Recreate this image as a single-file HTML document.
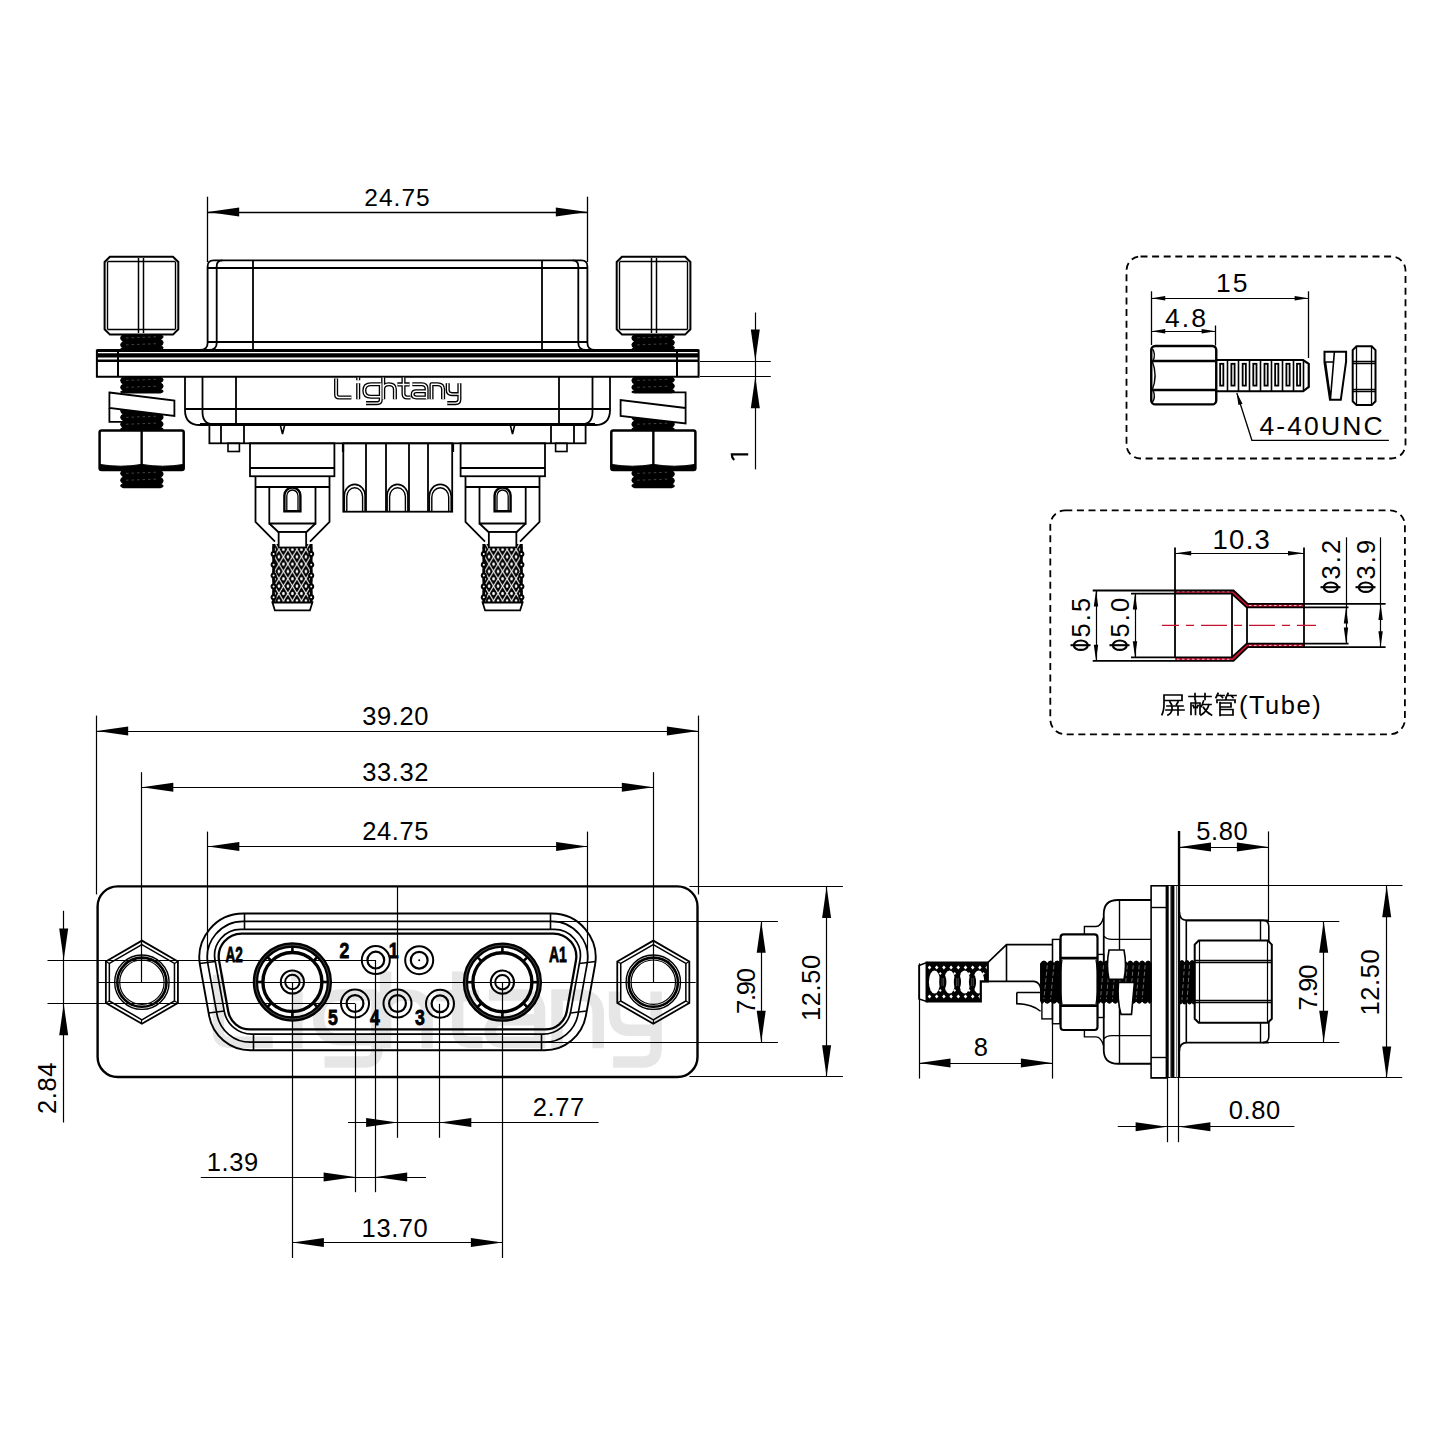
<!DOCTYPE html>
<html><head><meta charset="utf-8"><style>
html,body{margin:0;padding:0;background:#fff;width:1440px;height:1440px;overflow:hidden}
svg{display:block}
</style></head><body>
<svg width="1440" height="1440" viewBox="0 0 1440 1440" style="font-family:'Liberation Sans',sans-serif">
<defs>
<pattern id="knurl" patternUnits="userSpaceOnUse" width="9" height="14.7" x="278.9" y="556.7"><rect width="9" height="14.7" fill="#fff"/><path d="M0,-6.35 L3.85,0 L0,6.35 L-3.85,0 Z" fill="#000"/><ellipse cx="0" cy="0" rx="1.3" ry="1.8" fill="#fff"/><path d="M9,-6.35 L12.85,0 L9,6.35 L5.15,0 Z" fill="#000"/><ellipse cx="9" cy="0" rx="1.3" ry="1.8" fill="#fff"/><path d="M0,8.35 L3.85,14.7 L0,21.049999999999997 L-3.85,14.7 Z" fill="#000"/><ellipse cx="0" cy="14.7" rx="1.3" ry="1.8" fill="#fff"/><path d="M9,8.35 L12.85,14.7 L9,21.049999999999997 L5.15,14.7 Z" fill="#000"/><ellipse cx="9" cy="14.7" rx="1.3" ry="1.8" fill="#fff"/><path d="M4.5,1.0 L8.35,7.35 L4.5,13.7 L0.6499999999999999,7.35 Z" fill="#000"/><ellipse cx="4.5" cy="7.35" rx="1.3" ry="1.8" fill="#fff"/></pattern>
<pattern id="knurlR" patternUnits="userSpaceOnUse" width="9" height="14.7" x="516.1" y="556.7"><rect width="9" height="14.7" fill="#fff"/><path d="M0,-6.35 L3.85,0 L0,6.35 L-3.85,0 Z" fill="#000"/><ellipse cx="0" cy="0" rx="1.3" ry="1.8" fill="#fff"/><path d="M9,-6.35 L12.85,0 L9,6.35 L5.15,0 Z" fill="#000"/><ellipse cx="9" cy="0" rx="1.3" ry="1.8" fill="#fff"/><path d="M0,8.35 L3.85,14.7 L0,21.049999999999997 L-3.85,14.7 Z" fill="#000"/><ellipse cx="0" cy="14.7" rx="1.3" ry="1.8" fill="#fff"/><path d="M9,8.35 L12.85,14.7 L9,21.049999999999997 L5.15,14.7 Z" fill="#000"/><ellipse cx="9" cy="14.7" rx="1.3" ry="1.8" fill="#fff"/><path d="M4.5,1.0 L8.35,7.35 L4.5,13.7 L0.6499999999999999,7.35 Z" fill="#000"/><ellipse cx="4.5" cy="7.35" rx="1.3" ry="1.8" fill="#fff"/></pattern>
<pattern id="knurl2" patternUnits="userSpaceOnUse" width="14" height="10" x="926" y="962">
<rect width="14" height="10" fill="#000"/>
<path d="M0,0 L14,10 M14,0 L0,10" stroke="#fff" stroke-width="0.9"/>
</pattern>
</defs>
<rect width="1440" height="1440" fill="#fff"/>
<line x1="207.50" y1="196.70" x2="207.50" y2="262.00" stroke="#000" stroke-width="1.3" />
<line x1="587.50" y1="196.70" x2="587.50" y2="262.00" stroke="#000" stroke-width="1.3" />
<line x1="207.70" y1="212.50" x2="587.30" y2="212.50" stroke="#000" stroke-width="1.3" />
<path d="M207.70,212.10 L239.20,207.60 L239.20,216.60 Z" fill="#000" stroke="none"/>
<path d="M587.30,212.10 L555.80,216.60 L555.80,207.60 Z" fill="#000" stroke="none"/>
<text x="397.50" y="205.50" font-family="Liberation Sans" font-size="24.5" font-weight="normal" text-anchor="middle" letter-spacing="1.0"  >24.75</text>
<line x1="700.00" y1="361.50" x2="770.80" y2="361.50" stroke="#000" stroke-width="1.2" />
<line x1="700.00" y1="376.50" x2="770.80" y2="376.50" stroke="#000" stroke-width="1.2" />
<line x1="755.50" y1="312.50" x2="755.50" y2="469.40" stroke="#000" stroke-width="1.2" />
<path d="M755.30,361.10 L750.80,329.60 L759.80,329.60 Z" fill="#000" stroke="none"/>
<path d="M755.30,376.80 L759.80,408.30 L750.80,408.30 Z" fill="#000" stroke="none"/>
<path d="M748.2,454.3 H731.8 Q731.6,457.5 734.2,460" fill="none" stroke="#000" stroke-width="2.2" />
<path d="M200,350 Q207.6,350 207.6,343 V266.4 Q207.6,260.4 213.6,260.4 H581.4 Q587.4,260.4 587.4,266.4 V343 Q587.4,350 595.0,350" fill="none" stroke="#000" stroke-width="1.8" />
<path d="M209,350 Q216.7,350 216.7,343 V266 Q216.7,260.4 222.5,260.4 M572.5,260.4 Q578.3,260.4 578.3,266 V343 Q578.3,350 586.0,350" fill="none" stroke="#000" stroke-width="1.8" />
<line x1="207.60" y1="268.00" x2="587.40" y2="268.00" stroke="#000" stroke-width="1.8" />
<line x1="207.60" y1="342.00" x2="587.40" y2="342.00" stroke="#000" stroke-width="1.8" />
<line x1="253.00" y1="260.40" x2="253.00" y2="350.00" stroke="#000" stroke-width="1.8" />
<line x1="542.00" y1="260.40" x2="542.00" y2="350.00" stroke="#000" stroke-width="1.8" />
<path d="M109.89999999999999,256.7 H173.0 L178.3,262 V329.3 L173.0,334.6 H109.89999999999999 L104.6,329.3 V262 Z" fill="none" stroke="#000" stroke-width="2.0" />
<line x1="107.50" y1="261.50" x2="175.40" y2="261.50" stroke="#000" stroke-width="1.6" />
<line x1="107.50" y1="329.50" x2="175.40" y2="329.50" stroke="#000" stroke-width="1.6" />
<line x1="107.50" y1="261.70" x2="107.50" y2="329.30" stroke="#000" stroke-width="1.4" />
<line x1="175.50" y1="261.70" x2="175.50" y2="329.30" stroke="#000" stroke-width="1.4" />
<line x1="138.50" y1="258.00" x2="138.50" y2="333.00" stroke="#000" stroke-width="1.5" />
<line x1="143.50" y1="258.00" x2="143.50" y2="333.00" stroke="#000" stroke-width="1.5" />
<path d="M622.0,256.7 H685.1 L690.4,262 V329.3 L685.1,334.6 H622.0 L616.7,329.3 V262 Z" fill="none" stroke="#000" stroke-width="2.0" />
<line x1="619.60" y1="261.50" x2="687.50" y2="261.50" stroke="#000" stroke-width="1.6" />
<line x1="619.60" y1="329.50" x2="687.50" y2="329.50" stroke="#000" stroke-width="1.6" />
<line x1="619.50" y1="261.70" x2="619.50" y2="329.30" stroke="#000" stroke-width="1.4" />
<line x1="687.50" y1="261.70" x2="687.50" y2="329.30" stroke="#000" stroke-width="1.4" />
<line x1="651.50" y1="258.00" x2="651.50" y2="333.00" stroke="#000" stroke-width="1.5" />
<line x1="656.50" y1="258.00" x2="656.50" y2="333.00" stroke="#000" stroke-width="1.5" />
<rect x="96.90" y="350.50" width="601.70" height="26.25" rx="0" fill="none" stroke="#000" stroke-width="2.0" />
<line x1="96.90" y1="350.50" x2="698.60" y2="350.50" stroke="#000" stroke-width="3.0" />
<line x1="96.90" y1="355.40" x2="698.60" y2="355.40" stroke="#000" stroke-width="4.2" />
<line x1="96.90" y1="360.85" x2="698.60" y2="360.85" stroke="#000" stroke-width="2.5" />
<line x1="118.00" y1="350.00" x2="118.00" y2="377.00" stroke="#000" stroke-width="2.0" />
<line x1="677.00" y1="350.00" x2="677.00" y2="377.00" stroke="#000" stroke-width="2.0" />
<path d="M185,377 V410 Q185,425 200,425 H595.0 Q610.0,425 610.0,410 V377" fill="none" stroke="#000" stroke-width="1.8" />
<path d="M202.5,377 V412 Q202.5,424.4 214,424.4 M581.0,424.4 Q592.5,424.4 592.5,412 V377" fill="none" stroke="#000" stroke-width="1.8" />
<line x1="185.00" y1="409.00" x2="610.00" y2="409.00" stroke="#000" stroke-width="1.8" />
<line x1="200.00" y1="424.00" x2="595.00" y2="424.00" stroke="#000" stroke-width="1.8" />
<line x1="236.00" y1="377.00" x2="236.00" y2="424.40" stroke="#000" stroke-width="1.8" />
<line x1="559.00" y1="377.00" x2="559.00" y2="424.40" stroke="#000" stroke-width="1.8" />
<rect x="209.40" y="424.40" width="376.20" height="18.90" rx="0" fill="none" stroke="#000" stroke-width="1.8" />
<line x1="221.00" y1="424.40" x2="221.00" y2="443.30" stroke="#000" stroke-width="1.8" />
<line x1="574.00" y1="424.40" x2="574.00" y2="443.30" stroke="#000" stroke-width="1.8" />
<line x1="244.00" y1="424.40" x2="244.00" y2="443.30" stroke="#000" stroke-width="1.8" />
<line x1="551.00" y1="424.40" x2="551.00" y2="443.30" stroke="#000" stroke-width="1.8" />
<rect x="228.00" y="443.30" width="11.40" height="8.20" rx="0" fill="none" stroke="#000" stroke-width="1.6" />
<rect x="555.60" y="443.30" width="11.40" height="8.20" rx="0" fill="none" stroke="#000" stroke-width="1.6" />
<path d="M280.3,425 L282.5,434 L284.7,425" fill="none" stroke="#000" stroke-width="1.6" />
<path d="M510.3,425 L512.5,434 L514.7,425" fill="none" stroke="#000" stroke-width="1.6" />
<path d="M336.1,378.5 V394.5 Q336.1,397.5 339.1,397.5 H351.4 M358.2,383.2 V399.2 M358.2,377.6 V380.2 M380.8,384.2 H371 Q364.3,384.2 364.3,390.5 Q364.3,396.8 371,396.8 H380.8 M380.8,383.2 V399.5 Q380.8,403.1 377.2,403.1 H366 M383.2,377.6 V399.2 M383.2,389 Q383.2,384.2 389,384.2 Q394.9,384.2 394.9,389.5 V399.2 M403.5,377.6 V393.8 Q403.5,397.5 407.2,397.5 H410.5 M397.4,384.4 H409.6 M412.3,384.2 H421.8 Q426.6,384.2 426.6,389 V399.2 M426.6,391.2 H416.4 Q412.7,391.2 412.7,394.35 Q412.7,397.5 416.4,397.5 H426.6 M431.5,399.2 V384.2 H437.5 Q443.1,384.2 443.1,389.5 V399.2 M447.7,383.2 V389.8 Q447.7,394.1 452,394.1 H459.4 M459.4,383.2 V399.3 Q459.4,403.1 455.6,403.1 H447.3" fill="none" stroke="#000" stroke-width="4.1" stroke-linecap="butt" stroke-linejoin="round"/>
<path d="M336.1,378.5 V394.5 Q336.1,397.5 339.1,397.5 H351.4 M358.2,383.2 V399.2 M358.2,377.6 V380.2 M380.8,384.2 H371 Q364.3,384.2 364.3,390.5 Q364.3,396.8 371,396.8 H380.8 M380.8,383.2 V399.5 Q380.8,403.1 377.2,403.1 H366 M383.2,377.6 V399.2 M383.2,389 Q383.2,384.2 389,384.2 Q394.9,384.2 394.9,389.5 V399.2 M403.5,377.6 V393.8 Q403.5,397.5 407.2,397.5 H410.5 M397.4,384.4 H409.6 M412.3,384.2 H421.8 Q426.6,384.2 426.6,389 V399.2 M426.6,391.2 H416.4 Q412.7,391.2 412.7,394.35 Q412.7,397.5 416.4,397.5 H426.6 M431.5,399.2 V384.2 H437.5 Q443.1,384.2 443.1,389.5 V399.2 M447.7,383.2 V389.8 Q447.7,394.1 452,394.1 H459.4 M459.4,383.2 V399.3 Q459.4,403.1 455.6,403.1 H447.3" fill="none" stroke="#fff" stroke-width="1.45" stroke-linecap="butt" stroke-linejoin="round"/>
<rect x="250.00" y="443.30" width="84.40" height="32.95" rx="0" fill="none" stroke="#000" stroke-width="1.8" />
<line x1="250.00" y1="468.00" x2="334.40" y2="468.00" stroke="#000" stroke-width="1.8" />
<path d="M255.5,476.25 V522 L275.0,541.7 M329.5,476.25 V522 L310.0,541.7" fill="none" stroke="#000" stroke-width="1.8" />
<line x1="255.50" y1="487.00" x2="329.50" y2="487.00" stroke="#000" stroke-width="1.8" />
<path d="M269.3,487 V523.5 H315.5 V487" fill="none" stroke="#000" stroke-width="1.8" />
<path d="M269.3,523.5 L278.3,532 H306.5 L315.5,523.5" fill="none" stroke="#000" stroke-width="1.8" />
<path d="M284.4,511.3 V495.5 A8,8 0 0 1 300.4,495.5 V511.3 Z" fill="none" stroke="#000" stroke-width="2.4" />
<path d="M286.79999999999995,511.3 V496 A5.6,6 0 0 1 298.0,496 V511.3" fill="none" stroke="#000" stroke-width="1.3" />
<rect x="272.4" y="544" width="40" height="58.5" fill="url(#knurl)" stroke="none"/>
<line x1="273.60" y1="544.00" x2="273.60" y2="602.50" stroke="#000" stroke-width="2.6" />
<line x1="311.20" y1="544.00" x2="311.20" y2="602.50" stroke="#000" stroke-width="2.6" />
<circle cx="273.59999999999997" cy="554.0" r="3.0" fill="#000"/>
<circle cx="311.2" cy="554.0" r="3.0" fill="#000"/>
<circle cx="273.59999999999997" cy="554.0" r="1.0" fill="#fff"/>
<circle cx="311.2" cy="554.0" r="1.0" fill="#fff"/>
<circle cx="273.59999999999997" cy="564.8" r="3.0" fill="#000"/>
<circle cx="311.2" cy="564.8" r="3.0" fill="#000"/>
<circle cx="273.59999999999997" cy="564.8" r="1.0" fill="#fff"/>
<circle cx="311.2" cy="564.8" r="1.0" fill="#fff"/>
<circle cx="273.59999999999997" cy="575.6" r="3.0" fill="#000"/>
<circle cx="311.2" cy="575.6" r="3.0" fill="#000"/>
<circle cx="273.59999999999997" cy="575.6" r="1.0" fill="#fff"/>
<circle cx="311.2" cy="575.6" r="1.0" fill="#fff"/>
<circle cx="273.59999999999997" cy="586.4" r="3.0" fill="#000"/>
<circle cx="311.2" cy="586.4" r="3.0" fill="#000"/>
<circle cx="273.59999999999997" cy="586.4" r="1.0" fill="#fff"/>
<circle cx="311.2" cy="586.4" r="1.0" fill="#fff"/>
<circle cx="273.59999999999997" cy="597.2" r="3.0" fill="#000"/>
<circle cx="311.2" cy="597.2" r="3.0" fill="#000"/>
<circle cx="273.59999999999997" cy="597.2" r="1.0" fill="#fff"/>
<circle cx="311.2" cy="597.2" r="1.0" fill="#fff"/>
<rect x="278.65" y="532.00" width="27.50" height="15.50" rx="0" fill="#fff" stroke="#000" stroke-width="1.8" />
<path d="M272.4,602.5 H312.4 L309.9,610.4 H274.9 Z" fill="#fff" stroke="#000" stroke-width="1.8" />
<rect x="460.60" y="443.30" width="84.40" height="32.95" rx="0" fill="none" stroke="#000" stroke-width="1.8" />
<line x1="545.00" y1="468.00" x2="460.60" y2="468.00" stroke="#000" stroke-width="1.8" />
<path d="M465.5,476.25 V522 L485.0,541.7 M539.5,476.25 V522 L520.0,541.7" fill="none" stroke="#000" stroke-width="1.8" />
<line x1="465.50" y1="487.00" x2="539.50" y2="487.00" stroke="#000" stroke-width="1.8" />
<path d="M479.5,487 V523.5 H525.7 V487" fill="none" stroke="#000" stroke-width="1.8" />
<path d="M479.5,523.5 L488.5,532 H516.7 L525.7,523.5" fill="none" stroke="#000" stroke-width="1.8" />
<path d="M494.6,511.3 V495.5 A8,8 0 0 1 510.6,495.5 V511.3 Z" fill="none" stroke="#000" stroke-width="2.4" />
<path d="M497.0,511.3 V496 A5.6,6 0 0 1 508.20000000000005,496 V511.3" fill="none" stroke="#000" stroke-width="1.3" />
<rect x="482.6" y="544" width="40" height="58.5" fill="url(#knurlR)" stroke="none"/>
<line x1="483.80" y1="544.00" x2="483.80" y2="602.50" stroke="#000" stroke-width="2.6" />
<line x1="521.40" y1="544.00" x2="521.40" y2="602.50" stroke="#000" stroke-width="2.6" />
<circle cx="483.8" cy="554.0" r="3.0" fill="#000"/>
<circle cx="521.4" cy="554.0" r="3.0" fill="#000"/>
<circle cx="483.8" cy="554.0" r="1.0" fill="#fff"/>
<circle cx="521.4" cy="554.0" r="1.0" fill="#fff"/>
<circle cx="483.8" cy="564.8" r="3.0" fill="#000"/>
<circle cx="521.4" cy="564.8" r="3.0" fill="#000"/>
<circle cx="483.8" cy="564.8" r="1.0" fill="#fff"/>
<circle cx="521.4" cy="564.8" r="1.0" fill="#fff"/>
<circle cx="483.8" cy="575.6" r="3.0" fill="#000"/>
<circle cx="521.4" cy="575.6" r="3.0" fill="#000"/>
<circle cx="483.8" cy="575.6" r="1.0" fill="#fff"/>
<circle cx="521.4" cy="575.6" r="1.0" fill="#fff"/>
<circle cx="483.8" cy="586.4" r="3.0" fill="#000"/>
<circle cx="521.4" cy="586.4" r="3.0" fill="#000"/>
<circle cx="483.8" cy="586.4" r="1.0" fill="#fff"/>
<circle cx="521.4" cy="586.4" r="1.0" fill="#fff"/>
<circle cx="483.8" cy="597.2" r="3.0" fill="#000"/>
<circle cx="521.4" cy="597.2" r="3.0" fill="#000"/>
<circle cx="483.8" cy="597.2" r="1.0" fill="#fff"/>
<circle cx="521.4" cy="597.2" r="1.0" fill="#fff"/>
<rect x="488.85" y="532.00" width="27.50" height="15.50" rx="0" fill="#fff" stroke="#000" stroke-width="1.8" />
<path d="M482.6,602.5 H522.6 L520.1,610.4 H485.1 Z" fill="#fff" stroke="#000" stroke-width="1.8" />
<rect x="343.30" y="443.30" width="108.90" height="68.40" rx="0" fill="none" stroke="#000" stroke-width="1.8" />
<line x1="366.00" y1="443.30" x2="366.00" y2="511.70" stroke="#000" stroke-width="1.8" />
<line x1="386.00" y1="443.30" x2="386.00" y2="511.70" stroke="#000" stroke-width="1.8" />
<line x1="409.00" y1="443.30" x2="409.00" y2="511.70" stroke="#000" stroke-width="1.8" />
<line x1="428.00" y1="443.30" x2="428.00" y2="511.70" stroke="#000" stroke-width="1.8" />
<path d="M344.3,511.7 V495.79999999999995 A10.400000000000006,11.400000000000006 0 0 1 365.1,495.79999999999995 V511.7" fill="none" stroke="#000" stroke-width="1.6" />
<path d="M346.8,511.7 V496.70000000000005 A7.900000000000006,8.900000000000006 0 0 1 362.6,496.70000000000005 V511.7" fill="none" stroke="#000" stroke-width="1.4" />
<path d="M387.1,511.7 V495.79999999999995 A10.399999999999977,11.399999999999977 0 0 1 407.9,495.79999999999995 V511.7" fill="none" stroke="#000" stroke-width="1.6" />
<path d="M389.6,511.7 V496.7 A7.899999999999977,8.899999999999977 0 0 1 405.4,496.7 V511.7" fill="none" stroke="#000" stroke-width="1.4" />
<path d="M429.3,511.7 V496.34999999999997 A10.949999999999989,11.949999999999989 0 0 1 451.2,496.34999999999997 V511.7" fill="none" stroke="#000" stroke-width="1.6" />
<path d="M431.8,511.7 V497.25 A8.449999999999989,9.449999999999989 0 0 1 448.7,497.25 V511.7" fill="none" stroke="#000" stroke-width="1.4" />
<line x1="343.00" y1="444.00" x2="343.00" y2="452.00" stroke="#000" stroke-width="2.2" />
<line x1="453.00" y1="444.00" x2="453.00" y2="452.00" stroke="#000" stroke-width="2.2" />
<path d="M123.5,334.5 Q117.90,337.95 123.50,341.40 Q117.90,344.85 123.50,348.30 Q117.90,348.90 123.50,349.50 L160.25,349.5 Q165.85,347.77 160.25,346.05 Q165.85,342.60 160.25,339.15 Q165.85,336.83 160.25,334.50 Z" fill="#000" stroke="#000" stroke-width="1.2" stroke-linejoin="round"/>
<line x1="126" y1="337.95" x2="157.75" y2="336.75" stroke="#fff" stroke-width="0.6" stroke-dasharray="2.5 3" opacity="0.45"/>
<line x1="126" y1="344.85" x2="157.75" y2="343.65" stroke="#fff" stroke-width="0.6" stroke-dasharray="2.5 3" opacity="0.45"/>
<path d="M123.5,377 Q117.90,380.45 123.50,383.90 Q117.90,387.35 123.50,390.80 Q117.90,391.90 123.50,393.00 L160.25,393 Q165.85,391.27 160.25,389.55 Q165.85,386.10 160.25,382.65 Q165.85,379.83 160.25,377.00 Z" fill="#000" stroke="#000" stroke-width="1.2" stroke-linejoin="round"/>
<line x1="126" y1="380.45" x2="157.75" y2="379.25" stroke="#fff" stroke-width="0.6" stroke-dasharray="2.5 3" opacity="0.45"/>
<line x1="126" y1="387.35" x2="157.75" y2="386.15" stroke="#fff" stroke-width="0.6" stroke-dasharray="2.5 3" opacity="0.45"/>
<path d="M123.5,407 Q117.90,410.45 123.50,413.90 Q117.90,417.35 123.50,420.80 Q117.90,424.25 123.50,427.70 Q117.90,429.35 123.50,431.00 L160.25,431 Q165.85,429.27 160.25,427.55 Q165.85,424.10 160.25,420.65 Q165.85,417.20 160.25,413.75 Q165.85,410.38 160.25,407.00 Z" fill="#000" stroke="#000" stroke-width="1.2" stroke-linejoin="round"/>
<line x1="126" y1="410.45" x2="157.75" y2="409.25" stroke="#fff" stroke-width="0.6" stroke-dasharray="2.5 3" opacity="0.45"/>
<line x1="126" y1="417.35" x2="157.75" y2="416.15" stroke="#fff" stroke-width="0.6" stroke-dasharray="2.5 3" opacity="0.45"/>
<line x1="126" y1="424.25" x2="157.75" y2="423.05" stroke="#fff" stroke-width="0.6" stroke-dasharray="2.5 3" opacity="0.45"/>
<path d="M123.5,469.9 Q117.90,473.35 123.50,476.80 Q117.90,480.25 123.50,483.70 Q117.90,485.70 123.50,487.70 L160.25,487.7 Q165.85,485.98 160.25,484.25 Q165.85,480.80 160.25,477.35 Q165.85,473.90 160.25,470.45 Q165.85,470.18 160.25,469.90 Z" fill="#000" stroke="#000" stroke-width="1.2" stroke-linejoin="round"/>
<line x1="126" y1="473.35" x2="157.75" y2="472.15" stroke="#fff" stroke-width="0.6" stroke-dasharray="2.5 3" opacity="0.45"/>
<line x1="126" y1="480.25" x2="157.75" y2="479.05" stroke="#fff" stroke-width="0.6" stroke-dasharray="2.5 3" opacity="0.45"/>
<path d="M109.4,392.5 L174.4,400.6 V416 L109.4,408 Z" fill="#fff" stroke="#000" stroke-width="1.8" />
<path d="M109.4,408 V421.9 H123" fill="none" stroke="#000" stroke-width="1.8" />
<rect x="99.60" y="430.60" width="84.10" height="39.30" rx="2" fill="#fff" stroke="#000" stroke-width="2.5" />
<line x1="141.65" y1="430.60" x2="141.65" y2="466.00" stroke="#000" stroke-width="2.4" />
<path d="M99.6,464.4 Q120.62499999999999,468 141.64999999999998,464.4 Q162.67499999999998,468 183.7,464.4 V469.9 H99.6 Z" fill="#000" stroke="#000" stroke-width="1"/>
<path d="M634.75,334.5 Q629.15,337.95 634.75,341.40 Q629.15,344.85 634.75,348.30 Q629.15,348.90 634.75,349.50 L671.5,349.5 Q677.10,347.77 671.50,346.05 Q677.10,342.60 671.50,339.15 Q677.10,336.83 671.50,334.50 Z" fill="#000" stroke="#000" stroke-width="1.2" stroke-linejoin="round"/>
<line x1="637.25" y1="337.95" x2="669.0" y2="336.75" stroke="#fff" stroke-width="0.6" stroke-dasharray="2.5 3" opacity="0.45"/>
<line x1="637.25" y1="344.85" x2="669.0" y2="343.65" stroke="#fff" stroke-width="0.6" stroke-dasharray="2.5 3" opacity="0.45"/>
<path d="M634.75,377 Q629.15,380.45 634.75,383.90 Q629.15,387.35 634.75,390.80 Q629.15,391.90 634.75,393.00 L671.5,393 Q677.10,391.27 671.50,389.55 Q677.10,386.10 671.50,382.65 Q677.10,379.83 671.50,377.00 Z" fill="#000" stroke="#000" stroke-width="1.2" stroke-linejoin="round"/>
<line x1="637.25" y1="380.45" x2="669.0" y2="379.25" stroke="#fff" stroke-width="0.6" stroke-dasharray="2.5 3" opacity="0.45"/>
<line x1="637.25" y1="387.35" x2="669.0" y2="386.15" stroke="#fff" stroke-width="0.6" stroke-dasharray="2.5 3" opacity="0.45"/>
<path d="M634.75,407 Q629.15,410.45 634.75,413.90 Q629.15,417.35 634.75,420.80 Q629.15,424.25 634.75,427.70 Q629.15,429.35 634.75,431.00 L671.5,431 Q677.10,429.27 671.50,427.55 Q677.10,424.10 671.50,420.65 Q677.10,417.20 671.50,413.75 Q677.10,410.38 671.50,407.00 Z" fill="#000" stroke="#000" stroke-width="1.2" stroke-linejoin="round"/>
<line x1="637.25" y1="410.45" x2="669.0" y2="409.25" stroke="#fff" stroke-width="0.6" stroke-dasharray="2.5 3" opacity="0.45"/>
<line x1="637.25" y1="417.35" x2="669.0" y2="416.15" stroke="#fff" stroke-width="0.6" stroke-dasharray="2.5 3" opacity="0.45"/>
<line x1="637.25" y1="424.25" x2="669.0" y2="423.05" stroke="#fff" stroke-width="0.6" stroke-dasharray="2.5 3" opacity="0.45"/>
<path d="M634.75,469.9 Q629.15,473.35 634.75,476.80 Q629.15,480.25 634.75,483.70 Q629.15,485.70 634.75,487.70 L671.5,487.7 Q677.10,485.98 671.50,484.25 Q677.10,480.80 671.50,477.35 Q677.10,473.90 671.50,470.45 Q677.10,470.18 671.50,469.90 Z" fill="#000" stroke="#000" stroke-width="1.2" stroke-linejoin="round"/>
<line x1="637.25" y1="473.35" x2="669.0" y2="472.15" stroke="#fff" stroke-width="0.6" stroke-dasharray="2.5 3" opacity="0.45"/>
<line x1="637.25" y1="480.25" x2="669.0" y2="479.05" stroke="#fff" stroke-width="0.6" stroke-dasharray="2.5 3" opacity="0.45"/>
<path d="M685.6,408 L620.6,400 V416 L685.6,423.4 Z" fill="#fff" stroke="#000" stroke-width="1.8" />
<path d="M685.6,407.5 V392.4 H672.0" fill="none" stroke="#000" stroke-width="1.8" />
<rect x="611.30" y="430.60" width="84.10" height="39.30" rx="2" fill="#fff" stroke="#000" stroke-width="2.5" />
<line x1="653.35" y1="430.60" x2="653.35" y2="466.00" stroke="#000" stroke-width="2.4" />
<path d="M611.3,464.4 Q632.3249999999999,468 653.3499999999999,464.4 Q674.375,468 695.4,464.4 V469.9 H611.3 Z" fill="#000" stroke="#000" stroke-width="1"/>
<rect x="1126.5" y="256.5" width="279.0" height="202.0" rx="14" fill="none" stroke="#000" stroke-width="1.8" stroke-dasharray="7 4.6"/>
<line x1="1151.50" y1="291.30" x2="1151.50" y2="345.00" stroke="#000" stroke-width="1.3" />
<line x1="1308.50" y1="291.30" x2="1308.50" y2="358.00" stroke="#000" stroke-width="1.3" />
<line x1="1215.50" y1="325.50" x2="1215.50" y2="345.60" stroke="#000" stroke-width="1.3" />
<line x1="1151.25" y1="298.50" x2="1308.60" y2="298.50" stroke="#000" stroke-width="1.2" />
<path d="M1151.25,298.30 L1165.25,296.10 L1165.25,300.50 Z" fill="#000" stroke="none"/>
<path d="M1308.60,298.30 L1294.60,300.50 L1294.60,296.10 Z" fill="#000" stroke="none"/>
<line x1="1151.25" y1="331.50" x2="1215.60" y2="331.50" stroke="#000" stroke-width="1.2" />
<path d="M1151.25,331.20 L1165.25,329.00 L1165.25,333.40 Z" fill="#000" stroke="none"/>
<path d="M1215.60,331.20 L1201.60,333.40 L1201.60,329.00 Z" fill="#000" stroke="none"/>
<text x="1232.85" y="292.30" font-family="Liberation Sans" font-size="26.5" font-weight="normal" text-anchor="middle" letter-spacing="2.1"  >15</text>
<text x="1186.55" y="326.50" font-family="Liberation Sans" font-size="26.5" font-weight="normal" text-anchor="middle" letter-spacing="2.1"  >4.8</text>
<text x="1322.05" y="435.30" font-family="Liberation Sans" font-size="26.5" font-weight="normal" text-anchor="middle" letter-spacing="2.1"  >4-40UNC</text>
<rect x="1151.25" y="346.00" width="65.00" height="58.40" rx="4" fill="none" stroke="#000" stroke-width="2.4" />
<line x1="1152.00" y1="361.00" x2="1216.00" y2="361.00" stroke="#000" stroke-width="2.3" />
<line x1="1152.00" y1="390.00" x2="1216.00" y2="390.00" stroke="#000" stroke-width="2.3" />
<path d="M1152.5,349 Q1156,354 1153,361 M1153,390 Q1156,397 1152.5,402" fill="none" stroke="#000" stroke-width="1.4" />
<path d="M1152.2,361 Q1158,375.5 1152.2,390" fill="none" stroke="#000" stroke-width="1.4" />
<path d="M1216.25,360 H1303.1 L1308.75,363.75 V386.9 L1303.1,391.25 H1216.25" fill="none" stroke="#000" stroke-width="2.2" />
<line x1="1227.50" y1="360.00" x2="1227.50" y2="391.25" stroke="#000" stroke-width="1.6" />
<line x1="1238.50" y1="360.00" x2="1238.50" y2="391.25" stroke="#000" stroke-width="1.6" />
<line x1="1249.50" y1="360.00" x2="1249.50" y2="391.25" stroke="#000" stroke-width="1.6" />
<line x1="1260.50" y1="360.00" x2="1260.50" y2="391.25" stroke="#000" stroke-width="1.6" />
<line x1="1271.50" y1="360.00" x2="1271.50" y2="391.25" stroke="#000" stroke-width="1.6" />
<line x1="1282.50" y1="360.00" x2="1282.50" y2="391.25" stroke="#000" stroke-width="1.6" />
<line x1="1293.50" y1="360.00" x2="1293.50" y2="391.25" stroke="#000" stroke-width="1.6" />
<line x1="1303.50" y1="360.00" x2="1303.50" y2="391.25" stroke="#000" stroke-width="1.6" />
<rect x="1220.15" y="363.80" width="3.20" height="21.80" rx="0" fill="none" stroke="#000" stroke-width="1.8" />
<rect x="1231.40" y="363.80" width="3.20" height="21.80" rx="0" fill="none" stroke="#000" stroke-width="1.8" />
<rect x="1242.65" y="363.80" width="3.20" height="21.80" rx="0" fill="none" stroke="#000" stroke-width="1.8" />
<rect x="1253.30" y="363.80" width="3.20" height="21.80" rx="0" fill="none" stroke="#000" stroke-width="1.8" />
<rect x="1264.50" y="363.80" width="3.20" height="21.80" rx="0" fill="none" stroke="#000" stroke-width="1.8" />
<rect x="1275.15" y="363.80" width="3.20" height="21.80" rx="0" fill="none" stroke="#000" stroke-width="1.8" />
<rect x="1286.40" y="363.80" width="3.20" height="21.80" rx="0" fill="none" stroke="#000" stroke-width="1.8" />
<rect x="1297.00" y="363.80" width="3.20" height="21.80" rx="0" fill="none" stroke="#000" stroke-width="1.8" />
<path d="M1236.8,393 L1251.9,440.3 H1388.9" fill="none" stroke="#000" stroke-width="1.3" />
<path d="M1236.80,393.00 L1242.55,403.75 L1238.37,405.09 Z" fill="#000" stroke="none"/>
<path d="M1324.5,351.7 H1346.1 V361.4 L1340.8,399.8 H1330 L1324.5,362.4 Z" fill="none" stroke="#000" stroke-width="2.0" />
<path d="M1324.5,362 H1334 M1334.4,351.7 L1330.4,399.5 M1325.5,362.4 L1330.4,398" fill="none" stroke="#000" stroke-width="1.6" />
<path d="M1356.5,346.3 H1371.7 L1375.5,350.1 V401.3 L1371.7,405.1 H1356.5 L1352.7,401.3 V350.1 Z" fill="none" stroke="#000" stroke-width="2.0" />
<line x1="1353.00" y1="361.50" x2="1375.00" y2="361.50" stroke="#000" stroke-width="1.5" />
<line x1="1353.00" y1="363.50" x2="1375.00" y2="363.50" stroke="#000" stroke-width="1.5" />
<line x1="1353.00" y1="389.50" x2="1375.00" y2="389.50" stroke="#000" stroke-width="1.5" />
<line x1="1353.00" y1="391.50" x2="1375.00" y2="391.50" stroke="#000" stroke-width="1.5" />
<line x1="1356.50" y1="347.00" x2="1356.50" y2="404.50" stroke="#000" stroke-width="1.3" />
<line x1="1371.50" y1="347.00" x2="1371.50" y2="404.50" stroke="#000" stroke-width="1.3" />
<rect x="1050.3" y="510.3" width="354.60000000000014" height="223.99999999999994" rx="15" fill="none" stroke="#000" stroke-width="1.8" stroke-dasharray="7 4.6"/>
<path d="M1175.2,591.7 H1232.8 L1247.2,605.6 H1304" fill="none" stroke="#c8102e" stroke-width="3.4"/>
<path d="M1175.2,659.2 H1232.8 L1247.2,645.3 H1304" fill="none" stroke="#c8102e" stroke-width="3.4"/>
<path d="M1177,591.7 H1231 M1249,605.6 H1303 M1177,659.2 H1231 M1249,645.3 H1303" stroke="#fff" stroke-width="0.8" stroke-dasharray="2.5 2.5" fill="none"/>
<path d="M1092.7,590.5 H1233.5 L1247.8,603.9 H1385.6" fill="none" stroke="#000" stroke-width="1.8" />
<path d="M1131,593.6 H1231.7 L1246.7,607.4 H1348.5" fill="none" stroke="#000" stroke-width="1.8" />
<path d="M1092.7,660.8 H1233.5 L1247.8,647.2 H1385.6" fill="none" stroke="#000" stroke-width="1.8" />
<path d="M1131,657.3 H1231.7 L1246.7,643.6 H1348.5" fill="none" stroke="#000" stroke-width="1.8" />
<line x1="1175.00" y1="547.60" x2="1175.00" y2="657.50" stroke="#000" stroke-width="1.8" />
<line x1="1232.00" y1="593.30" x2="1232.00" y2="657.50" stroke="#000" stroke-width="1.8" />
<line x1="1247.00" y1="607.40" x2="1247.00" y2="643.70" stroke="#000" stroke-width="1.8" />
<line x1="1304.00" y1="547.60" x2="1304.00" y2="647.20" stroke="#000" stroke-width="1.8" />
<line x1="1162" y1="625.4" x2="1316" y2="625.4" stroke="#c8102e" stroke-width="1.2" stroke-dasharray="26 7 8 7" stroke-dashoffset="9"/>
<line x1="1175.20" y1="553.50" x2="1304.00" y2="553.50" stroke="#000" stroke-width="1.2" />
<path d="M1175.20,553.20 L1191.20,551.00 L1191.20,555.40 Z" fill="#000" stroke="none"/>
<path d="M1304.00,553.20 L1288.00,555.40 L1288.00,551.00 Z" fill="#000" stroke="none"/>
<text x="1241.85" y="548.80" font-family="Liberation Sans" font-size="27.5" font-weight="normal" text-anchor="middle" letter-spacing="1.3"  >10.3</text>
<line x1="1096.50" y1="590.50" x2="1096.50" y2="660.80" stroke="#000" stroke-width="1.2" />
<path d="M1096.00,590.50 L1098.20,606.50 L1093.80,606.50 Z" fill="#000" stroke="none"/>
<path d="M1096.00,660.80 L1093.80,644.80 L1098.20,644.80 Z" fill="#000" stroke="none"/>
<line x1="1135.50" y1="593.60" x2="1135.50" y2="657.30" stroke="#000" stroke-width="1.2" />
<path d="M1135.00,593.60 L1137.20,609.60 L1132.80,609.60 Z" fill="#000" stroke="none"/>
<path d="M1135.00,657.30 L1132.80,641.30 L1137.20,641.30 Z" fill="#000" stroke="none"/>
<g transform="translate(1090.00,624.20) rotate(-90)">
<ellipse cx="-21.00" cy="-9.2" rx="4.7" ry="7.0" fill="none" stroke="#000" stroke-width="2.1"/>
<line x1="-21.00" y1="-19.5" x2="-21.00" y2="0.5" stroke="#000" stroke-width="2.1"/>
<text x="-13.20" y="0" font-family="Liberation Sans" font-size="25.5" letter-spacing="2.0" text-anchor="start">5.5</text>
</g>
<g transform="translate(1129.00,624.20) rotate(-90)">
<ellipse cx="-21.00" cy="-9.2" rx="4.7" ry="7.0" fill="none" stroke="#000" stroke-width="2.1"/>
<line x1="-21.00" y1="-19.5" x2="-21.00" y2="0.5" stroke="#000" stroke-width="2.1"/>
<text x="-13.20" y="0" font-family="Liberation Sans" font-size="25.5" letter-spacing="2.0" text-anchor="start">5.0</text>
</g>
<line x1="1346.50" y1="537.30" x2="1346.50" y2="643.60" stroke="#000" stroke-width="1.2" />
<path d="M1346.00,607.40 L1348.20,623.40 L1343.80,623.40 Z" fill="#000" stroke="none"/>
<path d="M1346.00,643.60 L1343.80,627.60 L1348.20,627.60 Z" fill="#000" stroke="none"/>
<line x1="1380.50" y1="537.30" x2="1380.50" y2="647.20" stroke="#000" stroke-width="1.2" />
<path d="M1380.60,603.90 L1382.80,619.90 L1378.40,619.90 Z" fill="#000" stroke="none"/>
<path d="M1380.60,647.20 L1378.40,631.20 L1382.80,631.20 Z" fill="#000" stroke="none"/>
<g transform="translate(1340.00,566.20) rotate(-90)">
<ellipse cx="-21.00" cy="-9.2" rx="4.7" ry="7.0" fill="none" stroke="#000" stroke-width="2.1"/>
<line x1="-21.00" y1="-19.5" x2="-21.00" y2="0.5" stroke="#000" stroke-width="2.1"/>
<text x="-13.20" y="0" font-family="Liberation Sans" font-size="25.5" letter-spacing="2.0" text-anchor="start">3.2</text>
</g>
<g transform="translate(1375.00,566.20) rotate(-90)">
<ellipse cx="-21.00" cy="-9.2" rx="4.7" ry="7.0" fill="none" stroke="#000" stroke-width="2.1"/>
<line x1="-21.00" y1="-19.5" x2="-21.00" y2="0.5" stroke="#000" stroke-width="2.1"/>
<text x="-13.20" y="0" font-family="Liberation Sans" font-size="25.5" letter-spacing="2.0" text-anchor="start">3.9</text>
</g>
<g transform="translate(1162,693.5)" fill="none" stroke="#000" stroke-width="1.7" stroke-linecap="square">
<path d="M2,1.5 H20 V7 H2 M2,1.5 V10 Q2,17 0,21 M8,8.5 L9.5,11 M16,8.5 L14.5,11 M5,12.5 H21 M4,16.5 H22 M10,12.5 V17 Q9,20 6,21.5 M16,12.5 V21.5"/>
<path d="M27,3 H49 M33,0 V6 M43,0 V6 M29,9.5 V21 M29,9.5 H38 V20.5 M33.5,7 V21 M31,12 L32,14 M36,12 L35,14 M41.5,7.5 L39.5,13 M40.5,11 H49 M47,11 Q45,18 39,21.5 M41.5,14 Q44,18.5 49.5,21.5"/>
<path d="M56,0 L54,4 M55,2 H62 M58.5,2 L60.5,4 M66,0 L64,4 M65,2 H74 M69,2 L71,4 M64,4.5 V6.5 M55,9 V6.5 H73 V9 M58,9 V22 M58,9.5 H69 V13.5 H58 M58,16 H71 V21.5 H58"/>
</g>
<text x="1239.00" y="713.90" font-family="Liberation Sans" font-size="25.5" font-weight="normal" text-anchor="start" letter-spacing="1.5"  >(Tube)</text>
<line x1="96.50" y1="715.60" x2="96.50" y2="894.40" stroke="#000" stroke-width="1.2" />
<line x1="698.50" y1="715.60" x2="698.50" y2="894.40" stroke="#000" stroke-width="1.2" />
<line x1="96.70" y1="731.50" x2="698.40" y2="731.50" stroke="#000" stroke-width="1.2" />
<path d="M96.70,731.10 L128.20,726.60 L128.20,735.60 Z" fill="#000" stroke="none"/>
<path d="M698.40,731.10 L666.90,735.60 L666.90,726.60 Z" fill="#000" stroke="none"/>
<text x="395.60" y="725.00" font-family="Liberation Sans" font-size="25.5" font-weight="normal" text-anchor="middle" letter-spacing="0.6"  >39.20</text>
<line x1="141.50" y1="772.20" x2="141.50" y2="982.30" stroke="#000" stroke-width="1.2" />
<line x1="653.50" y1="772.20" x2="653.50" y2="982.30" stroke="#000" stroke-width="1.2" />
<line x1="141.80" y1="787.50" x2="653.30" y2="787.50" stroke="#000" stroke-width="1.2" />
<path d="M141.80,787.30 L173.30,782.80 L173.30,791.80 Z" fill="#000" stroke="none"/>
<path d="M653.30,787.30 L621.80,791.80 L621.80,782.80 Z" fill="#000" stroke="none"/>
<text x="395.60" y="781.00" font-family="Liberation Sans" font-size="25.5" font-weight="normal" text-anchor="middle" letter-spacing="0.6"  >33.32</text>
<line x1="207.50" y1="831.60" x2="207.50" y2="960.00" stroke="#000" stroke-width="1.2" />
<line x1="587.50" y1="831.60" x2="587.50" y2="960.00" stroke="#000" stroke-width="1.2" />
<line x1="207.80" y1="846.50" x2="587.60" y2="846.50" stroke="#000" stroke-width="1.2" />
<path d="M207.80,846.60 L239.30,842.10 L239.30,851.10 Z" fill="#000" stroke="none"/>
<path d="M587.60,846.60 L556.10,851.10 L556.10,842.10 Z" fill="#000" stroke="none"/>
<text x="395.60" y="840.00" font-family="Liberation Sans" font-size="25.5" font-weight="normal" text-anchor="middle" letter-spacing="0.6"  >24.75</text>
<path d="M336.1,378.5 V394.5 Q336.1,397.5 339.1,397.5 H351.4 M358.2,383.2 V399.2 M358.2,377.6 V380.2 M380.8,384.2 H371 Q364.3,384.2 364.3,390.5 Q364.3,396.8 371,396.8 H380.8 M380.8,383.2 V399.5 Q380.8,403.1 377.2,403.1 H366 M383.2,377.6 V399.2 M383.2,389 Q383.2,384.2 389,384.2 Q394.9,384.2 394.9,389.5 V399.2 M403.5,377.6 V393.8 Q403.5,397.5 407.2,397.5 H410.5 M397.4,384.4 H409.6 M412.3,384.2 H421.8 Q426.6,384.2 426.6,389 V399.2 M426.6,391.2 H416.4 Q412.7,391.2 412.7,394.35 Q412.7,397.5 416.4,397.5 H426.6 M431.5,399.2 V384.2 H437.5 Q443.1,384.2 443.1,389.5 V399.2 M447.7,383.2 V389.8 Q447.7,394.1 452,394.1 H459.4 M459.4,383.2 V399.3 Q459.4,403.1 455.6,403.1 H447.3" transform="matrix(3.55,0,0,3.55,-974.77,-368.92)" fill="none" stroke="#e6e6e6" stroke-width="3.239"/>
<rect x="97.60" y="886.40" width="599.90" height="190.60" rx="20" fill="none" stroke="#000" stroke-width="2.4" />
<path d="M141.90,940.60 L177.93,961.40 L177.93,1003.00 L141.90,1023.80 L105.87,1003.00 L105.87,961.40 Z" fill="none" stroke="#000" stroke-width="1.8" />
<path d="M141.90,944.60 L174.46,963.40 L174.46,1001.00 L141.90,1019.80 L109.34,1001.00 L109.34,963.40 Z" fill="none" stroke="#000" stroke-width="1.5" />
<circle cx="141.90" cy="982.20" r="27.20" fill="none" stroke="#000" stroke-width="1.4" />
<circle cx="141.90" cy="982.20" r="24.60" fill="none" stroke="#000" stroke-width="2.6" />
<circle cx="141.90" cy="982.20" r="22.20" fill="none" stroke="#000" stroke-width="1.2" />
<line x1="141.50" y1="944.60" x2="141.50" y2="940.60" stroke="#000" stroke-width="1.2" />
<line x1="174.46" y1="963.40" x2="177.93" y2="961.40" stroke="#000" stroke-width="1.2" />
<line x1="174.46" y1="1001.00" x2="177.93" y2="1003.00" stroke="#000" stroke-width="1.2" />
<line x1="141.50" y1="1019.80" x2="141.50" y2="1023.80" stroke="#000" stroke-width="1.2" />
<line x1="109.34" y1="1001.00" x2="105.87" y2="1003.00" stroke="#000" stroke-width="1.2" />
<line x1="109.34" y1="963.40" x2="105.87" y2="961.40" stroke="#000" stroke-width="1.2" />
<path d="M653.30,940.60 L689.33,961.40 L689.33,1003.00 L653.30,1023.80 L617.27,1003.00 L617.27,961.40 Z" fill="none" stroke="#000" stroke-width="1.8" />
<path d="M653.30,944.60 L685.86,963.40 L685.86,1001.00 L653.30,1019.80 L620.74,1001.00 L620.74,963.40 Z" fill="none" stroke="#000" stroke-width="1.5" />
<circle cx="653.30" cy="982.20" r="27.20" fill="none" stroke="#000" stroke-width="1.4" />
<circle cx="653.30" cy="982.20" r="24.60" fill="none" stroke="#000" stroke-width="2.6" />
<circle cx="653.30" cy="982.20" r="22.20" fill="none" stroke="#000" stroke-width="1.2" />
<line x1="653.50" y1="944.60" x2="653.50" y2="940.60" stroke="#000" stroke-width="1.2" />
<line x1="685.86" y1="963.40" x2="689.33" y2="961.40" stroke="#000" stroke-width="1.2" />
<line x1="685.86" y1="1001.00" x2="689.33" y2="1003.00" stroke="#000" stroke-width="1.2" />
<line x1="653.50" y1="1019.80" x2="653.50" y2="1023.80" stroke="#000" stroke-width="1.2" />
<line x1="620.74" y1="1001.00" x2="617.27" y2="1003.00" stroke="#000" stroke-width="1.2" />
<line x1="620.74" y1="963.40" x2="617.27" y2="961.40" stroke="#000" stroke-width="1.2" />
<path d="M243.33,913.50 L551.67,913.50 A44,44 0 0 1 594.98,965.29 L585.91,1015.64 A42,42 0 0 1 544.58,1050.20 L250.42,1050.20 A42,42 0 0 1 209.09,1015.64 L200.02,965.29 A44,44 0 0 1 243.33,913.50 Z" fill="none" stroke="#000" stroke-width="1.9" />
<path d="M243.26,921.30 L551.74,921.30 A36,36 0 0 1 587.17,963.68 L578.07,1014.22 A34,34 0 0 1 544.61,1042.20 L250.39,1042.20 A34,34 0 0 1 216.93,1014.22 L207.83,963.68 A36,36 0 0 1 243.26,921.30 Z" fill="none" stroke="#000" stroke-width="1.7" />
<path d="M240.60,929.40 L554.40,929.40 A26,26 0 0 1 579.99,960.01 L570.78,1011.16 A28,28 0 0 1 543.23,1034.20 L251.77,1034.20 A28,28 0 0 1 224.22,1011.16 L215.01,960.01 A26,26 0 0 1 240.60,929.40 Z" fill="none" stroke="#000" stroke-width="1.7" />
<path d="M241.71,933.60 L553.29,933.60 A23,23 0 0 1 575.93,960.67 L566.81,1011.30 A22,22 0 0 1 545.16,1029.40 L249.84,1029.40 A22,22 0 0 1 228.19,1011.30 L219.07,960.67 A23,23 0 0 1 241.71,933.60 Z" fill="none" stroke="#000" stroke-width="2.3" />
<line x1="244.50" y1="913.50" x2="244.50" y2="929.40" stroke="#000" stroke-width="1.6" />
<line x1="550.50" y1="913.50" x2="550.50" y2="929.40" stroke="#000" stroke-width="1.6" />
<line x1="253.50" y1="1034.20" x2="253.50" y2="1050.20" stroke="#000" stroke-width="1.6" />
<line x1="541.50" y1="1034.20" x2="541.50" y2="1050.20" stroke="#000" stroke-width="1.6" />
<line x1="199.52" y1="963.50" x2="215.46" y2="961.50" stroke="#000" stroke-width="1.5" />
<line x1="208.43" y1="1013.00" x2="224.37" y2="1011.00" stroke="#000" stroke-width="1.5" />
<line x1="595.48" y1="961.50" x2="579.54" y2="963.50" stroke="#000" stroke-width="1.5" />
<line x1="586.57" y1="1011.00" x2="570.63" y2="1013.00" stroke="#000" stroke-width="1.5" />
<line x1="47.50" y1="960.50" x2="375.80" y2="960.50" stroke="#000" stroke-width="1.2" />
<line x1="47.50" y1="1003.50" x2="355.00" y2="1003.50" stroke="#000" stroke-width="1.2" />
<line x1="98.00" y1="982.50" x2="695.70" y2="982.50" stroke="#000" stroke-width="1.2" />
<line x1="551.00" y1="921.50" x2="777.90" y2="921.50" stroke="#000" stroke-width="1.2" />
<line x1="542.00" y1="1042.50" x2="777.90" y2="1042.50" stroke="#000" stroke-width="1.2" />
<line x1="689.40" y1="886.50" x2="842.90" y2="886.50" stroke="#000" stroke-width="1.2" />
<line x1="689.40" y1="1076.50" x2="842.90" y2="1076.50" stroke="#000" stroke-width="1.2" />
<line x1="292.50" y1="982.20" x2="292.50" y2="1258.00" stroke="#000" stroke-width="1.2" />
<line x1="502.50" y1="982.20" x2="502.50" y2="1258.00" stroke="#000" stroke-width="1.2" />
<line x1="355.50" y1="1003.60" x2="355.50" y2="1192.20" stroke="#000" stroke-width="1.2" />
<line x1="375.50" y1="960.00" x2="375.50" y2="1192.20" stroke="#000" stroke-width="1.2" />
<line x1="397.50" y1="886.60" x2="397.50" y2="1137.80" stroke="#000" stroke-width="1.2" />
<line x1="439.50" y1="1003.80" x2="439.50" y2="1137.80" stroke="#000" stroke-width="1.2" />
<circle cx="292.40" cy="982.00" r="37.00" fill="none" stroke="#000" stroke-width="5.3" />
<circle cx="292.40" cy="982.00" r="37.00" fill="none" stroke="#777" stroke-width="0.6" />
<circle cx="292.40" cy="982.00" r="29.50" fill="none" stroke="#000" stroke-width="3.4" />
<line x1="322.90" y1="982.00" x2="327.40" y2="982.00" stroke="#000" stroke-width="2.6" />
<line x1="313.97" y1="1003.57" x2="317.15" y2="1006.75" stroke="#000" stroke-width="2.6" />
<line x1="292.40" y1="1012.50" x2="292.40" y2="1017.00" stroke="#000" stroke-width="2.6" />
<line x1="270.83" y1="1003.57" x2="267.65" y2="1006.75" stroke="#000" stroke-width="2.6" />
<line x1="261.90" y1="982.00" x2="257.40" y2="982.00" stroke="#000" stroke-width="2.6" />
<line x1="270.83" y1="960.43" x2="267.65" y2="957.25" stroke="#000" stroke-width="2.6" />
<line x1="292.40" y1="951.50" x2="292.40" y2="947.00" stroke="#000" stroke-width="2.6" />
<line x1="313.97" y1="960.43" x2="317.15" y2="957.25" stroke="#000" stroke-width="2.6" />
<circle cx="292.40" cy="982.00" r="11.60" fill="none" stroke="#000" stroke-width="2.0" />
<circle cx="292.40" cy="982.00" r="7.20" fill="none" stroke="#000" stroke-width="2.0" />
<circle cx="502.40" cy="982.20" r="37.00" fill="none" stroke="#000" stroke-width="5.3" />
<circle cx="502.40" cy="982.20" r="37.00" fill="none" stroke="#777" stroke-width="0.6" />
<circle cx="502.40" cy="982.20" r="29.50" fill="none" stroke="#000" stroke-width="3.4" />
<line x1="532.90" y1="982.20" x2="537.40" y2="982.20" stroke="#000" stroke-width="2.6" />
<line x1="523.97" y1="1003.77" x2="527.15" y2="1006.95" stroke="#000" stroke-width="2.6" />
<line x1="502.40" y1="1012.70" x2="502.40" y2="1017.20" stroke="#000" stroke-width="2.6" />
<line x1="480.83" y1="1003.77" x2="477.65" y2="1006.95" stroke="#000" stroke-width="2.6" />
<line x1="471.90" y1="982.20" x2="467.40" y2="982.20" stroke="#000" stroke-width="2.6" />
<line x1="480.83" y1="960.63" x2="477.65" y2="957.45" stroke="#000" stroke-width="2.6" />
<line x1="502.40" y1="951.70" x2="502.40" y2="947.20" stroke="#000" stroke-width="2.6" />
<line x1="523.97" y1="960.63" x2="527.15" y2="957.45" stroke="#000" stroke-width="2.6" />
<circle cx="502.40" cy="982.20" r="11.60" fill="none" stroke="#000" stroke-width="2.0" />
<circle cx="502.40" cy="982.20" r="7.20" fill="none" stroke="#000" stroke-width="2.0" />
<circle cx="375.80" cy="960.10" r="14.00" fill="none" stroke="#000" stroke-width="2.0" />
<circle cx="375.80" cy="960.10" r="8.40" fill="none" stroke="#000" stroke-width="2.2" />
<circle cx="419.20" cy="960.20" r="14.00" fill="none" stroke="#000" stroke-width="2.0" />
<circle cx="419.20" cy="960.20" r="8.40" fill="none" stroke="#000" stroke-width="2.2" />
<circle cx="419.20" cy="960.20" r="1.00" fill="#000" stroke="#000" stroke-width="0" />
<circle cx="355.00" cy="1003.50" r="14.00" fill="none" stroke="#000" stroke-width="2.0" />
<circle cx="355.00" cy="1003.50" r="8.40" fill="none" stroke="#000" stroke-width="2.2" />
<circle cx="397.50" cy="1003.50" r="14.00" fill="none" stroke="#000" stroke-width="2.0" />
<circle cx="397.50" cy="1003.50" r="8.40" fill="none" stroke="#000" stroke-width="2.2" />
<circle cx="440.00" cy="1003.80" r="14.00" fill="none" stroke="#000" stroke-width="2.0" />
<circle cx="440.00" cy="1003.80" r="8.40" fill="none" stroke="#000" stroke-width="2.2" />
<text x="0.00" y="0.00" font-family="Liberation Sans" font-size="22.5" font-weight="bold" text-anchor="middle"  transform="translate(234.10,962.00) rotate(0) scale(0.6,1)" stroke="#000" stroke-width="0.9">A2</text>
<text x="0.00" y="0.00" font-family="Liberation Sans" font-size="22.5" font-weight="bold" text-anchor="middle"  transform="translate(557.80,962.00) rotate(0) scale(0.62,1)" stroke="#000" stroke-width="0.9">A1</text>
<text x="0.00" y="0.00" font-family="Liberation Sans" font-size="22" font-weight="bold" text-anchor="middle"  transform="translate(344.50,957.60) rotate(0) scale(0.8,1)" stroke="#000" stroke-width="0.8">2</text>
<text x="0.00" y="0.00" font-family="Liberation Sans" font-size="22" font-weight="bold" text-anchor="middle"  transform="translate(393.70,957.60) rotate(0) scale(0.8,1)" stroke="#000" stroke-width="0.8">1</text>
<text x="0.00" y="0.00" font-family="Liberation Sans" font-size="22" font-weight="bold" text-anchor="middle"  transform="translate(333.00,1024.80) rotate(0) scale(0.8,1)" stroke="#000" stroke-width="0.8">5</text>
<text x="0.00" y="0.00" font-family="Liberation Sans" font-size="22" font-weight="bold" text-anchor="middle"  transform="translate(375.00,1024.80) rotate(0) scale(0.8,1)" stroke="#000" stroke-width="0.8">4</text>
<text x="0.00" y="0.00" font-family="Liberation Sans" font-size="22" font-weight="bold" text-anchor="middle"  transform="translate(420.00,1024.80) rotate(0) scale(0.8,1)" stroke="#000" stroke-width="0.8">3</text>
<line x1="761.50" y1="921.30" x2="761.50" y2="1042.30" stroke="#000" stroke-width="1.2" />
<path d="M761.20,921.30 L765.70,952.80 L756.70,952.80 Z" fill="#000" stroke="none"/>
<path d="M761.20,1042.30 L756.70,1010.80 L765.70,1010.80 Z" fill="#000" stroke="none"/>
<text x="0.00" y="0.00" font-family="Liberation Sans" font-size="25.5" font-weight="normal" text-anchor="middle" letter-spacing="-1.2" transform="translate(754.50,991.60) rotate(-90) scale(1.0,1)" >7.90</text>
<line x1="826.50" y1="886.60" x2="826.50" y2="1076.80" stroke="#000" stroke-width="1.2" />
<path d="M826.60,886.60 L831.10,918.10 L822.10,918.10 Z" fill="#000" stroke="none"/>
<path d="M826.60,1076.80 L822.10,1045.30 L831.10,1045.30 Z" fill="#000" stroke="none"/>
<text x="0.00" y="0.00" font-family="Liberation Sans" font-size="25.5" font-weight="normal" text-anchor="middle" letter-spacing="0.6" transform="translate(819.50,987.70) rotate(-90) scale(1.0,1)" >12.50</text>
<line x1="63.50" y1="910.80" x2="63.50" y2="1122.50" stroke="#000" stroke-width="1.2" />
<path d="M63.70,960.00 L59.20,928.50 L68.20,928.50 Z" fill="#000" stroke="none"/>
<path d="M63.70,1003.80 L68.20,1035.30 L59.20,1035.30 Z" fill="#000" stroke="none"/>
<text x="0.00" y="0.00" font-family="Liberation Sans" font-size="25.5" font-weight="normal" text-anchor="middle" letter-spacing="0.6" transform="translate(56.00,1088.00) rotate(-90) scale(1.0,1)" >2.84</text>
<line x1="348.00" y1="1122.50" x2="598.60" y2="1122.50" stroke="#000" stroke-width="1.2" />
<path d="M397.60,1122.60 L366.10,1127.10 L366.10,1118.10 Z" fill="#000" stroke="none"/>
<path d="M439.80,1122.60 L471.30,1118.10 L471.30,1127.10 Z" fill="#000" stroke="none"/>
<text x="558.80" y="1115.80" font-family="Liberation Sans" font-size="25.5" font-weight="normal" text-anchor="middle" letter-spacing="0.6"  >2.77</text>
<line x1="200.80" y1="1177.50" x2="426.00" y2="1177.50" stroke="#000" stroke-width="1.2" />
<path d="M355.10,1177.00 L323.60,1181.50 L323.60,1172.50 Z" fill="#000" stroke="none"/>
<path d="M375.70,1177.00 L407.20,1172.50 L407.20,1181.50 Z" fill="#000" stroke="none"/>
<text x="232.70" y="1170.80" font-family="Liberation Sans" font-size="25.5" font-weight="normal" text-anchor="middle" letter-spacing="0.6"  >1.39</text>
<line x1="292.40" y1="1242.50" x2="502.40" y2="1242.50" stroke="#000" stroke-width="1.2" />
<path d="M292.40,1242.60 L323.90,1238.10 L323.90,1247.10 Z" fill="#000" stroke="none"/>
<path d="M502.40,1242.60 L470.90,1247.10 L470.90,1238.10 Z" fill="#000" stroke="none"/>
<text x="395.00" y="1236.50" font-family="Liberation Sans" font-size="25.5" font-weight="normal" text-anchor="middle" letter-spacing="0.6"  >13.70</text>
<line x1="1179.50" y1="831.40" x2="1179.50" y2="886.00" stroke="#000" stroke-width="1.2" />
<line x1="1268.50" y1="831.40" x2="1268.50" y2="921.00" stroke="#000" stroke-width="1.2" />
<line x1="1179.50" y1="847.50" x2="1268.40" y2="847.50" stroke="#000" stroke-width="1.2" />
<path d="M1179.50,847.00 L1211.00,842.50 L1211.00,851.50 Z" fill="#000" stroke="none"/>
<path d="M1268.40,847.00 L1236.90,851.50 L1236.90,842.50 Z" fill="#000" stroke="none"/>
<text x="1222.30" y="840.10" font-family="Liberation Sans" font-size="25.5" font-weight="normal" text-anchor="middle" letter-spacing="0.6"  >5.80</text>
<line x1="1151.10" y1="885.50" x2="1402.50" y2="885.50" stroke="#000" stroke-width="1.2" />
<line x1="1151.10" y1="1077.50" x2="1402.20" y2="1077.50" stroke="#000" stroke-width="1.2" />
<line x1="1268.00" y1="921.50" x2="1339.30" y2="921.50" stroke="#000" stroke-width="1.2" />
<line x1="1268.00" y1="1042.50" x2="1339.30" y2="1042.50" stroke="#000" stroke-width="1.2" />
<line x1="1323.50" y1="921.30" x2="1323.50" y2="1042.20" stroke="#000" stroke-width="1.2" />
<path d="M1323.70,921.30 L1328.20,952.80 L1319.20,952.80 Z" fill="#000" stroke="none"/>
<path d="M1323.70,1042.20 L1319.20,1010.70 L1328.20,1010.70 Z" fill="#000" stroke="none"/>
<text x="0.00" y="0.00" font-family="Liberation Sans" font-size="25.5" font-weight="normal" text-anchor="middle" letter-spacing="-1.2" transform="translate(1317.00,988.10) rotate(-90) scale(1.0,1)" >7.90</text>
<line x1="1386.50" y1="885.80" x2="1386.50" y2="1077.90" stroke="#000" stroke-width="1.2" />
<path d="M1386.70,885.80 L1391.20,917.30 L1382.20,917.30 Z" fill="#000" stroke="none"/>
<path d="M1386.70,1077.90 L1382.20,1046.40 L1391.20,1046.40 Z" fill="#000" stroke="none"/>
<text x="0.00" y="0.00" font-family="Liberation Sans" font-size="25.5" font-weight="normal" text-anchor="middle" letter-spacing="0.6" transform="translate(1379.00,982.20) rotate(-90) scale(1.0,1)" >12.50</text>
<line x1="1167.50" y1="1078.00" x2="1167.50" y2="1142.20" stroke="#000" stroke-width="1.2" />
<line x1="1178.50" y1="1078.00" x2="1178.50" y2="1142.20" stroke="#000" stroke-width="1.2" />
<line x1="1117.80" y1="1126.50" x2="1294.40" y2="1126.50" stroke="#000" stroke-width="1.2" />
<path d="M1167.10,1126.70 L1135.60,1131.20 L1135.60,1122.20 Z" fill="#000" stroke="none"/>
<path d="M1178.90,1126.70 L1210.40,1122.20 L1210.40,1131.20 Z" fill="#000" stroke="none"/>
<text x="1254.80" y="1118.90" font-family="Liberation Sans" font-size="25.5" font-weight="normal" text-anchor="middle" letter-spacing="0.6"  >0.80</text>
<line x1="919.50" y1="963.30" x2="919.50" y2="1078.60" stroke="#000" stroke-width="1.2" />
<line x1="1052.50" y1="939.70" x2="1052.50" y2="1078.60" stroke="#000" stroke-width="1.2" />
<line x1="919.00" y1="1063.50" x2="1052.40" y2="1063.50" stroke="#000" stroke-width="1.2" />
<path d="M919.00,1063.00 L950.50,1058.50 L950.50,1067.50 Z" fill="#000" stroke="none"/>
<path d="M1052.40,1063.00 L1020.90,1067.50 L1020.90,1058.50 Z" fill="#000" stroke="none"/>
<text x="981.10" y="1055.70" font-family="Liberation Sans" font-size="25.5" font-weight="normal" text-anchor="middle" letter-spacing="0.6"  >8</text>
<rect x="1151.10" y="885.80" width="15.30" height="192.20" rx="0" fill="none" stroke="#000" stroke-width="1.6" />
<line x1="1151.10" y1="907.50" x2="1166.40" y2="907.50" stroke="#000" stroke-width="1.4" />
<line x1="1151.10" y1="1057.50" x2="1166.40" y2="1057.50" stroke="#000" stroke-width="1.4" />
<line x1="1167.40" y1="885.80" x2="1167.40" y2="1078.00" stroke="#000" stroke-width="2.6" />
<line x1="1170.50" y1="885.80" x2="1170.50" y2="1078.00" stroke="#555" stroke-width="0.8" />
<line x1="1172.75" y1="885.80" x2="1172.75" y2="1078.00" stroke="#000" stroke-width="3.3" />
<line x1="1176.50" y1="885.80" x2="1176.50" y2="1078.00" stroke="#555" stroke-width="0.8" />
<line x1="1179.00" y1="831.00" x2="1179.00" y2="1078.00" stroke="#000" stroke-width="2.3" />
<path d="M1179.4,912 Q1179.4,920.4 1187,920.4 H1268.8 M1179.4,1051 Q1179.4,1042.6 1187,1042.6 H1268.8" fill="none" stroke="#000" stroke-width="1.6" />
<path d="M1186.3,921 V1042 M1186.3,920.4 H1262.8 Q1268.8,920.4 1268.8,926.4 V1036.6 Q1268.8,1042.6 1262.8,1042.6" fill="none" stroke="#000" stroke-width="1.6" />
<line x1="1260.50" y1="920.40" x2="1260.50" y2="1042.60" stroke="#000" stroke-width="1.4" />
<path d="M1198.7,940.6 H1267.8 L1271.8,944.6 V1018.8 L1267.8,1022.8 H1198.7 L1194.7,1018.8 V944.6 Z" fill="#fff" stroke="#000" stroke-width="2.0" />
<line x1="1195.00" y1="960.50" x2="1271.50" y2="960.50" stroke="#000" stroke-width="1.4" />
<line x1="1195.00" y1="962.50" x2="1271.50" y2="962.50" stroke="#000" stroke-width="1.4" />
<line x1="1195.00" y1="1000.50" x2="1271.50" y2="1000.50" stroke="#000" stroke-width="1.4" />
<line x1="1195.00" y1="1002.50" x2="1271.50" y2="1002.50" stroke="#000" stroke-width="1.4" />
<line x1="1199.50" y1="941.00" x2="1199.50" y2="1022.50" stroke="#000" stroke-width="1.2" />
<line x1="1267.50" y1="941.00" x2="1267.50" y2="1022.50" stroke="#000" stroke-width="1.2" />
<path d="M1179.4,963.3000000000001 Q1181.95,957.86 1184.50,963.30 Q1187.05,957.86 1189.60,963.30 Q1192.15,957.86 1194.70,963.30 L1194.7,1001.3 Q1193.43,1006.74 1192.15,1001.30 Q1189.60,1006.74 1187.05,1001.30 Q1184.50,1006.74 1181.95,1001.30 Q1180.68,1006.74 1179.40,1001.30 Z" fill="#000" stroke="#000" stroke-width="1.1" stroke-linejoin="round"/>
<line x1="1184.50" y1="964.80" x2="1181.95" y2="999.80" stroke="#fff" stroke-width="0.7" stroke-dasharray="4 2.5" opacity="0.6"/>
<line x1="1189.60" y1="964.80" x2="1187.05" y2="999.80" stroke="#fff" stroke-width="0.7" stroke-dasharray="4 2.5" opacity="0.6"/>
<path d="M1151.1,900 H1118 Q1103.75,900 1103.75,914 V1050 Q1103.75,1063.75 1118,1063.75 H1151.1" fill="none" stroke="#000" stroke-width="1.8" />
<line x1="1119.50" y1="900.00" x2="1119.50" y2="1063.75" stroke="#000" stroke-width="1.4" />
<path d="M1104,936 Q1106,939.4 1112,939.4 H1151 M1104,1039 Q1106,1035.6 1112,1035.6 H1151" fill="none" stroke="#000" stroke-width="1.4" />
<path d="M1103.75,917 Q1101,926.5 1096,926.5 H1084.4 V1036.9 H1096 Q1101,1036.9 1103.75,1046" fill="none" stroke="#000" stroke-width="1.4" />
<rect x="1097.50" y="954.40" width="6.25" height="63.10" rx="0" fill="none" stroke="#000" stroke-width="1.4" />
<path d="M1097.5,963.8000000000001 Q1100.48,958.36 1103.46,963.80 Q1106.43,958.36 1109.41,963.80 Q1112.39,958.36 1115.37,963.80 Q1118.34,958.36 1121.32,963.80 Q1124.30,958.36 1127.28,963.80 Q1130.26,958.36 1133.23,963.80 Q1136.21,958.36 1139.19,963.80 Q1142.17,958.36 1145.14,963.80 Q1148.12,958.36 1151.10,963.80 L1151.1,1000.55 Q1149.61,1005.99 1148.12,1000.55 Q1145.14,1005.99 1142.17,1000.55 Q1139.19,1005.99 1136.21,1000.55 Q1133.23,1005.99 1130.26,1000.55 Q1127.28,1005.99 1124.30,1000.55 Q1121.32,1005.99 1118.34,1000.55 Q1115.37,1005.99 1112.39,1000.55 Q1109.41,1005.99 1106.43,1000.55 Q1103.46,1005.99 1100.48,1000.55 Q1098.99,1005.99 1097.50,1000.55 Z" fill="#000" stroke="#000" stroke-width="1.1" stroke-linejoin="round"/>
<line x1="1103.46" y1="965.30" x2="1100.48" y2="999.05" stroke="#fff" stroke-width="0.7" stroke-dasharray="4 2.5" opacity="0.6"/>
<line x1="1109.41" y1="965.30" x2="1106.43" y2="999.05" stroke="#fff" stroke-width="0.7" stroke-dasharray="4 2.5" opacity="0.6"/>
<line x1="1115.37" y1="965.30" x2="1112.39" y2="999.05" stroke="#fff" stroke-width="0.7" stroke-dasharray="4 2.5" opacity="0.6"/>
<line x1="1121.32" y1="965.30" x2="1118.34" y2="999.05" stroke="#fff" stroke-width="0.7" stroke-dasharray="4 2.5" opacity="0.6"/>
<line x1="1127.28" y1="965.30" x2="1124.30" y2="999.05" stroke="#fff" stroke-width="0.7" stroke-dasharray="4 2.5" opacity="0.6"/>
<line x1="1133.23" y1="965.30" x2="1130.26" y2="999.05" stroke="#fff" stroke-width="0.7" stroke-dasharray="4 2.5" opacity="0.6"/>
<line x1="1139.19" y1="965.30" x2="1136.21" y2="999.05" stroke="#fff" stroke-width="0.7" stroke-dasharray="4 2.5" opacity="0.6"/>
<line x1="1145.14" y1="965.30" x2="1142.17" y2="999.05" stroke="#fff" stroke-width="0.7" stroke-dasharray="4 2.5" opacity="0.6"/>
<path d="M1109,950 H1124 Q1127,965 1124,979.4 H1109 Q1106,965 1109,950 Z" fill="#fff" stroke="#000" stroke-width="1.6" />
<path d="M1118.5,982.5 H1134.4 L1131.5,1014.4 H1121 Q1117,1000 1118.5,982.5 Z" fill="#fff" stroke="#000" stroke-width="1.6" />
<rect x="1060.60" y="934.40" width="36.90" height="95.60" rx="3" fill="#fff" stroke="#000" stroke-width="2.2" />
<line x1="1061.00" y1="958.10" x2="1097.00" y2="958.10" stroke="#000" stroke-width="2.6" />
<line x1="1061.00" y1="1005.60" x2="1097.00" y2="1005.60" stroke="#000" stroke-width="2.6" />
<path d="M1062,960 Q1058,982 1062,1004 M1096,960 Q1100,982 1096,1004" fill="none" stroke="#000" stroke-width="1.2" />
<rect x="1052.50" y="939.40" width="7.50" height="84.35" rx="0" fill="none" stroke="#000" stroke-width="1.4" />
<path d="M1040.6,963.8000000000001 Q1043.93,958.36 1047.27,963.80 Q1050.60,958.36 1053.93,963.80 Q1057.27,958.36 1060.60,963.80 L1060.6,1000.55 Q1058.93,1005.99 1057.27,1000.55 Q1053.93,1005.99 1050.60,1000.55 Q1047.27,1005.99 1043.93,1000.55 Q1042.27,1005.99 1040.60,1000.55 Z" fill="#000" stroke="#000" stroke-width="1.1" stroke-linejoin="round"/>
<line x1="1047.27" y1="965.30" x2="1043.93" y2="999.05" stroke="#fff" stroke-width="0.7" stroke-dasharray="4 2.5" opacity="0.6"/>
<line x1="1053.93" y1="965.30" x2="1050.60" y2="999.05" stroke="#fff" stroke-width="0.7" stroke-dasharray="4 2.5" opacity="0.6"/>
<rect x="1041.90" y="1000.00" width="10.50" height="18.90" rx="0" fill="none" stroke="#000" stroke-width="1.4" />
<path d="M987.8,962.6 L1006.5,944.6 H1052.4 M1006.5,944.6 V981.4 M980.8,981.4 H1034 Q1040,982 1041,990" fill="none" stroke="#000" stroke-width="1.6" />
<path d="M1016.8,992.5 H1040 M1016.8,992.5 V1003.6 Q1032,1004 1040.6,1011.25" fill="none" stroke="#000" stroke-width="1.6" />
<clipPath id="kclip"><path d="M926.7,962.6 H987.8 V981.4 H980.8 V1001.5 H926.7 Z"/></clipPath>
<g clip-path="url(#kclip)">
<rect x="920" y="960" width="70" height="45" fill="#000"/>
<ellipse cx="934.5" cy="982" rx="5.6" ry="11.5" fill="#fff"/>
<ellipse cx="949.6" cy="982" rx="5.6" ry="11.5" fill="#fff"/>
<ellipse cx="964.7" cy="982" rx="5.6" ry="11.5" fill="#fff"/>
<ellipse cx="978.75" cy="982" rx="5.6" ry="11.5" fill="#fff"/>
<ellipse cx="942.8" cy="982" rx="3.6" ry="8" fill="#000"/>
<line x1="942.0" y1="978" x2="942.0" y2="986" stroke="#888" stroke-width="0.5"/>
<line x1="943.5999999999999" y1="978" x2="943.5999999999999" y2="986" stroke="#888" stroke-width="0.5"/>
<ellipse cx="957.4" cy="982" rx="3.6" ry="8" fill="#000"/>
<line x1="956.6" y1="978" x2="956.6" y2="986" stroke="#888" stroke-width="0.5"/>
<line x1="958.1999999999999" y1="978" x2="958.1999999999999" y2="986" stroke="#888" stroke-width="0.5"/>
<ellipse cx="972.5" cy="982" rx="3.6" ry="8" fill="#000"/>
<line x1="971.7" y1="978" x2="971.7" y2="986" stroke="#888" stroke-width="0.5"/>
<line x1="973.3" y1="978" x2="973.3" y2="986" stroke="#888" stroke-width="0.5"/>
<path d="M929.5,965.5 L931.3,967.5 L929.5,969.5 L927.7,967.5 Z" fill="#fff"/>
<path d="M929.5,994.5 L931.3,996.5 L929.5,998.5 L927.7,996.5 Z" fill="#fff"/>
<path d="M933.1,971.9 L934.5,973.5 L933.1,975.1 L931.7,973.5 Z" fill="#fff"/>
<path d="M933.1,988.9 L934.5,990.5 L933.1,992.1 L931.7,990.5 Z" fill="#fff"/>
<path d="M936.7,965.5 L938.5,967.5 L936.7,969.5 L934.9000000000001,967.5 Z" fill="#fff"/>
<path d="M936.7,994.5 L938.5,996.5 L936.7,998.5 L934.9000000000001,996.5 Z" fill="#fff"/>
<path d="M940.3000000000001,971.9 L941.7,973.5 L940.3000000000001,975.1 L938.9000000000001,973.5 Z" fill="#fff"/>
<path d="M940.3000000000001,988.9 L941.7,990.5 L940.3000000000001,992.1 L938.9000000000001,990.5 Z" fill="#fff"/>
<path d="M943.9,965.5 L945.6999999999999,967.5 L943.9,969.5 L942.1,967.5 Z" fill="#fff"/>
<path d="M943.9,994.5 L945.6999999999999,996.5 L943.9,998.5 L942.1,996.5 Z" fill="#fff"/>
<path d="M947.5,971.9 L948.9,973.5 L947.5,975.1 L946.1,973.5 Z" fill="#fff"/>
<path d="M947.5,988.9 L948.9,990.5 L947.5,992.1 L946.1,990.5 Z" fill="#fff"/>
<path d="M951.1,965.5 L952.9,967.5 L951.1,969.5 L949.3000000000001,967.5 Z" fill="#fff"/>
<path d="M951.1,994.5 L952.9,996.5 L951.1,998.5 L949.3000000000001,996.5 Z" fill="#fff"/>
<path d="M954.7,971.9 L956.1,973.5 L954.7,975.1 L953.3000000000001,973.5 Z" fill="#fff"/>
<path d="M954.7,988.9 L956.1,990.5 L954.7,992.1 L953.3000000000001,990.5 Z" fill="#fff"/>
<path d="M958.3,965.5 L960.0999999999999,967.5 L958.3,969.5 L956.5,967.5 Z" fill="#fff"/>
<path d="M958.3,994.5 L960.0999999999999,996.5 L958.3,998.5 L956.5,996.5 Z" fill="#fff"/>
<path d="M961.9,971.9 L963.3,973.5 L961.9,975.1 L960.5,973.5 Z" fill="#fff"/>
<path d="M961.9,988.9 L963.3,990.5 L961.9,992.1 L960.5,990.5 Z" fill="#fff"/>
<path d="M965.5,965.5 L967.3,967.5 L965.5,969.5 L963.7,967.5 Z" fill="#fff"/>
<path d="M965.5,994.5 L967.3,996.5 L965.5,998.5 L963.7,996.5 Z" fill="#fff"/>
<path d="M969.1,971.9 L970.5,973.5 L969.1,975.1 L967.7,973.5 Z" fill="#fff"/>
<path d="M969.1,988.9 L970.5,990.5 L969.1,992.1 L967.7,990.5 Z" fill="#fff"/>
<path d="M972.7,965.5 L974.5,967.5 L972.7,969.5 L970.9000000000001,967.5 Z" fill="#fff"/>
<path d="M972.7,994.5 L974.5,996.5 L972.7,998.5 L970.9000000000001,996.5 Z" fill="#fff"/>
<path d="M976.3000000000001,971.9 L977.7,973.5 L976.3000000000001,975.1 L974.9000000000001,973.5 Z" fill="#fff"/>
<path d="M976.3000000000001,988.9 L977.7,990.5 L976.3000000000001,992.1 L974.9000000000001,990.5 Z" fill="#fff"/>
<path d="M979.9,965.5 L981.6999999999999,967.5 L979.9,969.5 L978.1,967.5 Z" fill="#fff"/>
<path d="M979.9,994.5 L981.6999999999999,996.5 L979.9,998.5 L978.1,996.5 Z" fill="#fff"/>
<path d="M983.5,971.9 L984.9,973.5 L983.5,975.1 L982.1,973.5 Z" fill="#fff"/>
<path d="M983.5,988.9 L984.9,990.5 L983.5,992.1 L982.1,990.5 Z" fill="#fff"/>
<path d="M987.1,965.5 L988.9,967.5 L987.1,969.5 L985.3000000000001,967.5 Z" fill="#fff"/>
<path d="M987.1,994.5 L988.9,996.5 L987.1,998.5 L985.3000000000001,996.5 Z" fill="#fff"/>
<path d="M990.7,971.9 L992.1,973.5 L990.7,975.1 L989.3000000000001,973.5 Z" fill="#fff"/>
<path d="M990.7,988.9 L992.1,990.5 L990.7,992.1 L989.3000000000001,990.5 Z" fill="#fff"/>
</g>
<path d="M926.7,962.6 H987.8 V981.4 H980.8 V1001.5 H926.7 Z" fill="none" stroke="#000" stroke-width="2.2"/>
<path d="M919,965.5 L926.7,962.6 V1001.5 L919,999 Z" fill="none" stroke="#000" stroke-width="1.6" />
</svg></body></html>
